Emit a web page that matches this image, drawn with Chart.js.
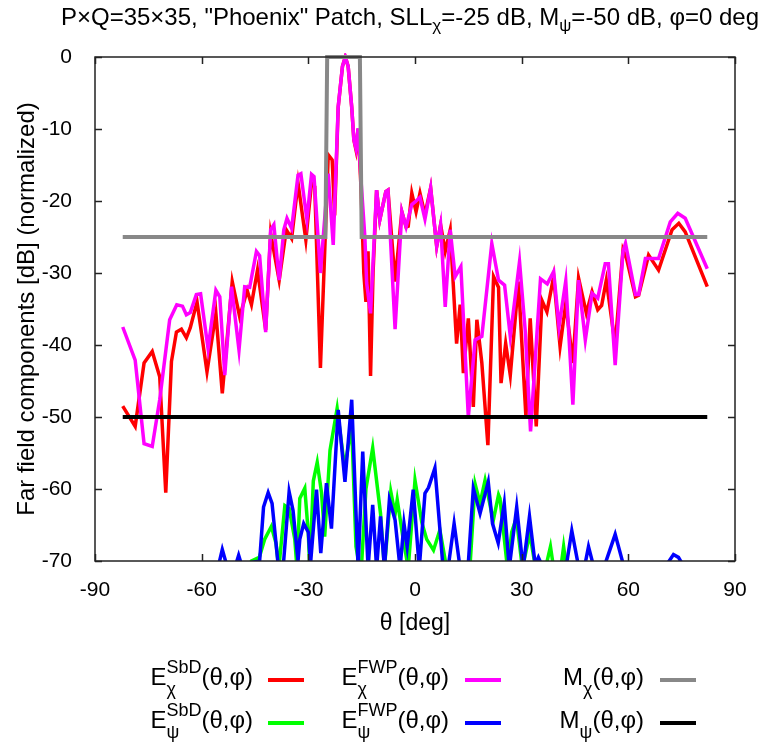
<!DOCTYPE html>
<html>
<head>
<meta charset="utf-8">
<script src="https://cdn.jsdelivr.net/npm/chart.js@4/dist/chart.umd.min.js"></script>
<style>
  body { margin: 0; background: #fff; font-family: "Liberation Sans", Arial, sans-serif; }
  #wrap { position: relative; width: 764px; height: 748px; overflow: hidden; }
  #chartCanvas { position: absolute; left: 0; top: 0; }
  #title { position: absolute; left: 56px; width: 708px; top: 3px; text-align: center; font-size: 24px; white-space: nowrap; }
  #title sub { font-size: 17px; vertical-align: -6px; line-height: 0; }
  .lg-text { position: absolute; font-size: 24px; line-height: 28px; white-space: nowrap; text-align: right; }
  .lg-line { position: absolute; height: 4px; }
  .ss { display: inline-block; vertical-align: middle; font-size: 18px; line-height: 22px; text-align: left; margin-top: -2px; }
  .ss span { display: block; }
</style>
</head>
<body>
<div id="wrap">
  <canvas id="chartCanvas" width="764" height="748"></canvas>
  <div id="title">P&times;Q=35&times;35, "Phoenix" Patch, SLL<sub>&chi;</sub>=-25 dB, M<sub>&psi;</sub>=-50 dB, &phi;=0 deg</div>
  <div id="legend"></div>
</div>
<script>
document.addEventListener("DOMContentLoaded", () => {
  const ctx = document.getElementById("chartCanvas").getContext("2d");

  // axis ticks
  const xTicks = [-90, -60, -30, 0, 30, 60, 90];
  const yTicks = [0, -10, -20, -30, -40, -50, -60, -70];

  // E_chi, SbD
  const sbdChiTheta = [-82.2, -78.7, -76.2, -73.9, -71.8, -70.1, -68.5, -67.1, -65.7, -64.3, -63.2, -61.3, -58.5, -56.0, -54.2, -51.4, -49.3, -47.2, -46.0, -44.3, -42.0, -40.6, -38.2, -36.2, -34.7, -32.9, -30.7, -29.1, -28.2, -26.6, -24.4, -23.3, -22.6, -21.6, -20.4, -19.6, -18.8, -17.8, -17.2, -16.6, -16.0, -15.2, -14.4, -13.8, -13.2, -12.5, -11.8, -10.8, -9.9, -8.2, -7.6, -5.6, -3.7, -2.5, -1.9, -0.9, 0.3, 1.4, 2.8, 4.4, 6.1, 7.2, 8.5, 9.9, 11.7, 12.7, 13.6, 15.0, 16.4, 17.4, 18.8, 20.5, 22.1, 23.5, 24.2, 25.5, 26.8, 29.1, 31.2, 32.4, 34.1, 35.7, 37.1, 39.0, 40.8, 42.4, 44.4, 46.0, 48.2, 49.8, 51.4, 52.5, 53.8, 56.3, 58.5, 59.5, 62.0, 62.9, 65.7, 68.5, 72.3, 74.2, 76.0, 82.2];
  const sbdChiDb = [-48.5, -51.3, -42.5, -40.9, -44.4, -60.5, -42.3, -38.2, -37.8, -39.0, -37.6, -34.0, -43.7, -35.6, -46.7, -31.2, -36.1, -32.4, -34.4, -29.6, -37.9, -24.5, -31.0, -24.0, -25.2, -17.5, -25.4, -17.5, -18.0, -43.2, -13.6, -14.3, -22.0, -7.0, -1.3, 0, -1.3, -7.0, -11.5, -12.9, -10.0, -18.0, -30.0, -34.0, -27.0, -44.3, -30.0, -18.5, -22.6, -18.7, -18.5, -31.2, -21.5, -23.6, -23.5, -18.9, -21.5, -18.9, -21.9, -18.2, -26.3, -23.3, -27.0, -24.0, -39.8, -34.4, -43.9, -36.3, -48.6, -36.5, -42.5, -53.9, -30.5, -32.0, -45.3, -39.8, -44.2, -31.2, -50.0, -36.3, -51.3, -33.8, -35.4, -30.5, -40.2, -34.2, -42.5, -30.7, -35.6, -32.6, -35.1, -34.5, -31.0, -40.0, -26.8, -28.0, -33.3, -33.1, -27.5, -29.6, -24.0, -23.1, -24.3, -31.9];

  // E_chi, FWP
  const fwpChiTheta = [-82.2, -78.7, -76.2, -73.9, -71.8, -69.0, -67.0, -65.4, -64.3, -63.2, -61.5, -60.3, -58.2, -56.0, -54.9, -53.5, -51.6, -49.5, -47.9, -46.5, -44.6, -43.7, -42.0, -40.6, -39.7, -38.2, -36.9, -36.0, -34.7, -32.9, -32.1, -30.4, -29.1, -28.4, -26.6, -24.4, -23.0, -21.6, -20.4, -19.6, -18.8, -17.8, -17.2, -16.6, -16.0, -15.2, -14.1, -13.6, -12.5, -10.8, -9.9, -8.2, -7.6, -5.6, -3.7, -2.5, -0.9, 0.3, 1.4, 2.8, 4.4, 6.1, 7.2, 8.5, 9.9, 11.3, 12.9, 15.0, 16.9, 18.8, 21.6, 23.5, 25.2, 26.8, 29.4, 31.0, 32.5, 35.3, 37.2, 39.0, 40.5, 42.4, 44.4, 46.0, 47.9, 49.8, 51.4, 53.5, 54.4, 56.3, 58.5, 59.2, 62.0, 62.9, 64.8, 68.5, 71.8, 73.9, 76.0, 82.2];
  const fwpChiDb = [-37.5, -42.1, -53.7, -54.1, -47.6, -36.5, -34.4, -34.6, -35.8, -35.5, -33.0, -32.9, -40.5, -32.4, -33.3, -44.2, -31.9, -40.7, -31.9, -32.0, -27.0, -27.6, -38.2, -24.0, -23.3, -31.0, -24.0, -22.4, -23.8, -16.4, -16.2, -22.6, -16.3, -16.6, -30.0, -16.2, -26.1, -6.9, -1.3, 0, -1.3, -6.9, -11.5, -12.7, -9.9, -17.0, -25.0, -31.4, -35.6, -18.5, -22.6, -18.7, -18.5, -37.8, -21.5, -23.6, -20.5, -20.0, -19.5, -22.5, -18.2, -26.3, -23.3, -34.7, -24.0, -30.5, -29.1, -50.0, -39.3, -38.8, -25.9, -31.0, -31.7, -38.8, -28.4, -38.0, -52.0, -30.8, -31.5, -29.8, -37.5, -31.1, -48.3, -31.0, -39.3, -32.8, -33.5, -28.7, -28.7, -42.8, -27.0, -25.9, -33.0, -33.0, -28.0, -28.0, -22.9, -21.7, -22.4, -29.4];

  // E_psi, SbD (values under -70 fall below the axis)
  const sbdPsiTheta = [-47.0, -46.0, -43.8, -42.3, -40.4, -39.1, -38.3, -36.6, -35.4, -33.8, -33.2, -32.4, -31.0, -30.0, -29.6, -28.6, -27.5, -26.3, -25.4, -23.9, -21.9, -19.8, -17.8, -16.6, -15.2, -13.8, -11.9, -9.7, -8.6, -6.8, -5.6, -5.0, -3.3, -1.9, 0.0, 1.9, 3.3, 5.2, 7.0, 8.9, 13.5, 15.5, 16.9, 18.3, 19.7, 22.0, 23.5, 23.9, 26.0, 27.2, 28.5, 30.2, 32.3, 33.9, 36.7, 38.1, 39.0, 41.0, 41.8, 42.6];
  const sbdPsiDb = [-72, -70.0, -69.5, -67.0, -65.2, -67.5, -71, -62.3, -62.7, -67.0, -71, -61.3, -59.9, -66.2, -71, -58.9, -56.3, -60.5, -66.6, -54.6, -48.8, -57.0, -51.3, -68.0, -72, -60.0, -54.3, -63.4, -71, -60.4, -63.5, -61.5, -67.0, -71, -58.8, -64.6, -67.0, -68.5, -65.7, -71, -72, -70.5, -59.3, -62.0, -58.8, -64.4, -60.8, -61.3, -71, -66.0, -64.0, -71, -66.2, -71, -71, -68.0, -71, -71, -68.0, -71];

  // E_psi, FWP
  const fwpPsiTheta = [-56.0, -55.2, -54.2, -53.0, -50.4, -49.6, -48.8, -43.7, -42.6, -41.3, -40.2, -38.6, -37.1, -35.4, -34.3, -32.9, -32.4, -31.3, -30.0, -29.4, -27.7, -26.5, -24.9, -23.5, -21.6, -19.7, -17.8, -16.0, -14.7, -13.2, -11.9, -10.8, -9.7, -8.6, -7.2, -5.6, -4.2, -3.1, -2.2, -0.5, 1.2, 2.8, 3.8, 5.6, 7.9, 9.3, 11.0, 12.7, 14.9, 16.4, 18.3, 20.6, 21.8, 23.4, 25.1, 26.5, 28.6, 30.4, 32.2, 33.8, 34.7, 35.6, 42.6, 44.1, 45.9, 47.8, 48.8, 50.1, 53.4, 56.3, 58.6, 70.8, 72.7, 74.1, 75.3];
  const fwpPsiDb = [-72, -70.5, -68.4, -70.5, -70.5, -69.2, -70.5, -70.0, -62.5, -60.5, -62.0, -70.0, -71, -60.4, -63.0, -70.0, -67.0, -64.8, -66.0, -70.5, -60.1, -68.9, -59.2, -65.5, -49.0, -59.0, -47.6, -71, -54.8, -71, -62.2, -71, -63.8, -71, -61.5, -64.3, -71, -64.8, -68.0, -60.1, -71, -60.6, -59.8, -57.1, -71, -71, -64.8, -71, -71, -59.9, -63.4, -59.0, -64.8, -67.5, -62.0, -71, -62.5, -71, -63.8, -70.5, -69.5, -70.5, -70.5, -65.8, -70.5, -70.5, -68.0, -70.5, -70.5, -66.3, -70.5, -70.5, -69.1, -69.5, -70.5];

  // masks
  const maskChiTheta = [-82.2, -25.2, -24.7, -15.5, -15.0, 82.2];
  const maskChiDb = [-25, -25, 0, 0, -25, -25];
  const maskPsiTheta = [-82.2, 82.2];
  const maskPsiDb = [-50, -50];

  const pts = (xs, ys) => xs.map((x, i) => ({ x: x, y: ys[i] }));

  const series = [
    { label: "sbdChi", data: pts(sbdChiTheta, sbdChiDb), color: "#ff0000", order: 6, width: 3.5 },
    { label: "fwpChi", data: pts(fwpChiTheta, fwpChiDb), color: "#ff00ff", order: 5, width: 3.5 },
    { label: "maskChi", data: pts(maskChiTheta, maskChiDb), color: "#888888", order: 4, width: 4 },
    { label: "sbdPsi", data: pts(sbdPsiTheta, sbdPsiDb), color: "#00ff00", order: 3, width: 3.5 },
    { label: "fwpPsi", data: pts(fwpPsiTheta, fwpPsiDb), color: "#0000ff", order: 2, width: 3.5 },
    { label: "maskPsi", data: pts(maskPsiTheta, maskPsiDb), color: "#000000", order: 1, width: 4 },
  ];

  const FONT = "'Liberation Sans', Arial, sans-serif";

  // frame with inward ticks on all four sides
  const framePlugin = {
    id: "frame",
    afterDraw(chart) {
      const a = chart.chartArea;
      const c = chart.ctx;
      const xs = chart.scales.x;
      const ys = chart.scales.y;
      c.save();
      c.strokeStyle = "#222";
      c.lineWidth = 1.5;
      c.strokeRect(a.left, a.top, a.right - a.left, a.bottom - a.top);
      c.beginPath();
      xTicks.forEach((t) => {
        const px = Math.round(xs.getPixelForValue(t)) + 0.5;
        c.moveTo(px, a.bottom); c.lineTo(px, a.bottom - 7);
        c.moveTo(px, a.top); c.lineTo(px, a.top + 7);
      });
      yTicks.forEach((t) => {
        const py = Math.round(ys.getPixelForValue(t)) + 0.5;
        c.moveTo(a.left, py); c.lineTo(a.left + 7, py);
        c.moveTo(a.right, py); c.lineTo(a.right - 7, py);
      });
      c.stroke();
      c.restore();
    },
  };

  new Chart(ctx, {
    type: "line",
    data: {
      datasets: series.map((s) => ({
        label: s.label,
        data: s.data,
        borderColor: s.color,
        backgroundColor: s.color,
        borderWidth: s.width,
        pointRadius: 0,
        tension: 0,
        fill: false,
        order: s.order,
        clip: { left: 0, right: 0, top: 4, bottom: 0 },
      })),
    },
    options: {
      responsive: false,
      animation: false,
      events: [],
      layout: { padding: { left: 0, top: 57, right: 29, bottom: 107 } },
      plugins: { legend: { display: false }, tooltip: { enabled: false } },
      scales: {
        x: {
          type: "linear",
          min: -90,
          max: 90,
          afterFit: (s) => { s.height = 80; },
          afterBuildTicks: (s) => { s.ticks = xTicks.map((v) => ({ value: v })); },
          ticks: { color: "#000", font: { family: FONT, size: 21 }, padding: 9 },
          grid: { display: false },
          border: { display: false },
          title: { display: true, text: "θ [deg]", color: "#000", font: { family: FONT, size: 23 }, padding: { top: 0, bottom: 4 } },
        },
        y: {
          type: "linear",
          min: -70,
          max: 0,
          afterFit: (s) => { s.width = 95; },
          afterBuildTicks: (s) => { s.ticks = yTicks.map((v) => ({ value: v })); },
          ticks: { color: "#000", font: { family: FONT, size: 21 }, padding: 15 },
          grid: { display: false },
          border: { display: false },
          title: { display: true, text: "Far field components [dB] (normalized)", color: "#000", font: { family: FONT, size: 24 }, padding: { top: 13, bottom: 0 } },
        },
      },
    },
    plugins: [framePlugin],
  });

  // key below the plot, three columns by two rows
  const legendBase = ["E", "E", "M", "E", "E", "M"];
  const legendSup = ["SbD", "FWP", "", "SbD", "FWP", ""];
  const legendSub = ["χ", "χ", "χ", "ψ", "ψ", "ψ"];
  const legendColors = ["#ff0000", "#ff00ff", "#888888", "#00ff00", "#0000ff", "#000000"];
  const colTextEnd = [253, 449, 644];
  const colLineStart = [268, 465, 660];
  const rowLineY = [680, 723];

  const legend = document.getElementById("legend");
  legendBase.forEach((b, i) => {
    const col = i % 3;
    const row = Math.floor(i / 3);
    const t = document.createElement("div");
    t.className = "lg-text";
    t.style.right = (764 - colTextEnd[col]) + "px";
    t.style.top = (rowLineY[row] - 22) + "px";
    const sup = legendSup[i] ? legendSup[i] : "&nbsp;";
    t.innerHTML = b + '<span class="ss"><span>' + sup + "</span><span>" + legendSub[i] + "</span></span>(θ,φ)";
    legend.appendChild(t);
    const l = document.createElement("div");
    l.className = "lg-line";
    l.style.left = colLineStart[col] + "px";
    l.style.width = "36px";
    l.style.top = (rowLineY[row] - 2) + "px";
    l.style.background = legendColors[i];
    legend.appendChild(l);
  });
});
</script>
</body>
</html>
